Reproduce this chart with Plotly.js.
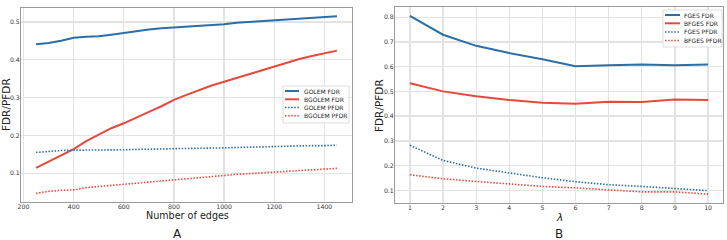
<!DOCTYPE html>
<html><head><meta charset="utf-8">
<script src="https://cdn.plot.ly/plotly-3.0.1.min.js"></script>
<style>html,body{margin:0;padding:0;background:#fff}#chart{width:727px;height:240px}</style>
</head><body><div id="chart"></div>
<script>
// Panel A data
const edges = [250,300,350,400,450,500,550,600,650,700,750,800,850,900,950,1000,1050,1100,1150,1200,1250,1300,1350,1400,1450];
const golemFDR = [0.441,0.444,0.450,0.458,0.461,0.462,0.466,0.471,0.476,0.480,0.483,0.485,0.487,0.490,0.492,0.494,0.498,0.500,0.503,0.505,0.508,0.509,0.512,0.514,0.515];
const bgolemFDR = [0.114,0.130,0.148,0.164,0.185,0.202,0.219,0.232,0.248,0.262,0.277,0.294,0.307,0.320,0.332,0.342,0.352,0.363,0.374,0.384,0.393,0.402,0.410,0.417,0.424];
const golemPFDR = [0.155,0.158,0.160,0.161,0.161,0.161,0.161,0.162,0.163,0.163,0.164,0.165,0.165,0.166,0.166,0.167,0.168,0.169,0.170,0.171,0.172,0.172,0.173,0.173,0.174];
const bgolemPFDR = [0.047,0.052,0.055,0.056,0.062,0.065,0.068,0.072,0.075,0.078,0.081,0.084,0.087,0.090,0.093,0.095,0.097,0.099,0.101,0.104,0.106,0.107,0.109,0.111,0.113];
// Panel B data
const lambdas = [1,2,3,4,5,6,7,8,9,10];
const fgesFDR = [0.805,0.729,0.684,0.655,0.630,0.602,0.606,0.609,0.606,0.609];
const bfgesFDR = [0.533,0.500,0.480,0.465,0.454,0.450,0.458,0.457,0.467,0.465];
const fgesPFDR = [0.282,0.221,0.190,0.170,0.151,0.135,0.123,0.116,0.108,0.099];
const bfgesPFDR = [0.163,0.147,0.136,0.126,0.116,0.110,0.103,0.094,0.094,0.085];
const namesA = ["GOLEM FDR","BGOLEM FDR","GOLEM PFDR","BGOLEM PFDR"];
const namesB = ["FGES FDR","BFGES FDR","FGES PFDR","BFGES PFDR"];
const ticksA_x = [200,400,600,800,1000,1200,1400];
const ticksA_y = [0.1,0.2,0.3,0.4,0.5];
const ticksB_y = [0.1,0.2,0.3,0.4,0.5,0.6,0.7,0.8];

const BLUE = '#2b6ea8', RED = '#e8483b';
const W = 727, H = 240;
const px = x => x / W, py = y => 1 - y / H;
const DOT = '1.5px,1.6px';
const styles = [
  {color: BLUE, width: 2, dash: 'solid'},
  {color: RED, width: 2, dash: 'solid'},
  {color: BLUE, width: 1.6, dash: DOT},
  {color: RED, width: 1.6, dash: DOT}
];
const seriesA = [golemFDR, bgolemFDR, golemPFDR, bgolemPFDR];
const seriesB = [fgesFDR, bfgesFDR, fgesPFDR, bfgesPFDR];
const traces = [];
seriesA.forEach((s, i) => traces.push({x: edges, y: s, name: namesA[i], mode: 'lines', line: styles[i], xaxis: 'x', yaxis: 'y', showlegend: false}));
seriesB.forEach((s, i) => traces.push({x: lambdas, y: s, name: namesB[i], mode: 'lines', line: styles[i], xaxis: 'x2', yaxis: 'y2', showlegend: false}));

const tickFont = {family: 'DejaVu Sans', size: 6.2, color: '#333'};
const axBase = {showgrid: true, gridcolor: '#e3e3e3', gridwidth: 1.3, zeroline: false, showline: true, linecolor: '#9a9a9a', linewidth: 1, mirror: true, ticks: '', tickfont: tickFont, ticklabelstandoff: -1};

const shapes = [], annotations = [];
function legend(x0, x1, y0, y1, rows, lineX0, lineX1, textX, names) {
  shapes.push({type: 'rect', xref: 'paper', yref: 'paper', x0: px(x0), x1: px(x1), y0: py(y0), y1: py(y1), line: {color: '#dddddd', width: 1}, fillcolor: 'rgba(255,255,255,0.85)', layer: 'above'});
  rows.forEach((ry, i) => {
    shapes.push({type: 'line', xref: 'paper', yref: 'paper', x0: px(lineX0), x1: px(lineX1), y0: py(ry), y1: py(ry), line: {color: styles[i].color, width: styles[i].width, dash: styles[i].dash}, layer: 'above'});
    annotations.push({xref: 'paper', yref: 'paper', x: px(textX), y: py(ry), text: names[i], showarrow: false, xanchor: 'left', yanchor: 'middle', font: {family: 'DejaVu Sans', size: 6, color: '#222'}});
  });
}
legend(283, 349, 86, 123, [91, 99.3, 107.5, 115.8], 285, 299, 302, namesA);
legend(663, 722, 10, 47, [15, 23.3, 32, 40.5], 665, 680, 682, namesB);

function label(x, y, text, size, rot) {
  annotations.push({xref: 'paper', yref: 'paper', x: px(x), y: py(y), text: text, showarrow: false, xanchor: 'center', yanchor: 'middle', textangle: rot || 0, font: {family: 'DejaVu Sans', size: size, color: '#222'}});
}
label(187.5, 215, 'Number of edges', 9.6);
label(6, 105, 'FDR/PFDR', 10.5, -90);
label(379, 106, 'FDR/PFDR', 10.5, -90);
label(559, 216.5, '<i>λ</i>', 10.5);
label(177, 234, 'A', 12);
label(559, 234, 'B', 12);

const layout = {
  width: W, height: H, margin: {l: 0, r: 0, t: 0, b: 0}, paper_bgcolor: '#fff', plot_bgcolor: '#fff', showlegend: false,
  xaxis: Object.assign({}, axBase, {domain: [px(21), px(352)], range: [190, 1510], tickvals: ticksA_x}),
  yaxis: Object.assign({}, axBase, {domain: [py(202), py(7.5)], range: [0.024, 0.538], tickvals: ticksA_y}),
  xaxis2: Object.assign({}, axBase, {anchor: 'y2', domain: [px(395), px(723)], range: [0.55, 10.45], tickvals: lambdas}),
  yaxis2: Object.assign({}, axBase, {anchor: 'x2', domain: [py(203), py(7)], range: [0.049, 0.841], tickvals: ticksB_y}),
  shapes: shapes, annotations: annotations
};
Plotly.newPlot('chart', traces, layout, {staticPlot: true, displayModeBar: false});
</script></body></html>
